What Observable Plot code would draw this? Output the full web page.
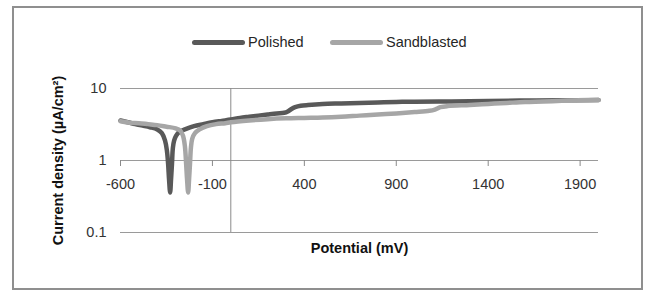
<!DOCTYPE html>
<html>
<head>
<meta charset="utf-8">
<script src="https://cdn.jsdelivr.net/npm/d3@7"></script>
<script src="https://cdn.jsdelivr.net/npm/@observablehq/plot@0.6"></script>
<style>
  html, body { margin: 0; padding: 0; background: #fff; }
  #wrap { position: relative; width: 646px; height: 291px; font-family: "Liberation Sans", Arial, sans-serif; }
  #border { position: absolute; left: 12px; top: 6px; width: 627px; height: 280px; border: 2px solid #8f8f8f; box-sizing: content-box; pointer-events: none; }
  #legend { position: absolute; top: 32px; left: 0; width: 646px; height: 20px; font-size: 14.5px; color: #262626; }
  .item { position: absolute; top: 0; display: flex; align-items: center; height: 20px; }
  .swatch { display: inline-block; width: 53px; height: 5px; border-radius: 3px; margin-right: 3px; }
  svg { position: absolute; left: 0; top: 0; }
</style>
</head>
<body>
<div id="wrap">
  <div id="border"></div>
  <div id="legend"></div>
</div>
<script>
const seriesNames = ["Polished", "Sandblasted"];
const seriesColors = ["#595959", "#a6a6a6"];

const polishedX = [-600,-560,-520,-480,-440,-400,-375,-358,-348,-341,-336,-330,-325,-320,-315,-308,-298,-280,-250,-200,-150,-100,-50,0,50,100,150,200,250,290,310,330,350,380,420,500,600,700,800,900,1000,1200,1400,1600,1800,2000];
const polishedY = [3.6,3.4,3.2,3.05,2.9,2.7,2.4,1.9,1.4,0.9,0.55,0.36,0.55,0.9,1.5,1.9,2.2,2.5,2.7,3.0,3.2,3.4,3.55,3.7,3.9,4.05,4.2,4.35,4.5,4.6,4.8,5.2,5.5,5.75,5.9,6.1,6.2,6.3,6.4,6.5,6.55,6.6,6.7,6.8,6.85,6.9];

const sandX = [-600,-550,-500,-450,-400,-350,-300,-275,-260,-250,-243,-238,-232,-227,-222,-217,-210,-195,-170,-130,-80,-30,0,100,200,300,400,500,600,700,800,900,1000,1080,1110,1140,1180,1300,1400,1500,1600,1700,1800,1900,2000];
const sandY = [3.5,3.35,3.3,3.2,3.1,2.95,2.8,2.6,2.2,1.6,0.9,0.55,0.36,0.55,0.9,1.5,2.0,2.4,2.7,3.0,3.2,3.3,3.4,3.6,3.75,3.85,3.9,3.95,4.05,4.2,4.35,4.5,4.7,4.9,5.1,5.5,5.7,5.9,6.1,6.3,6.5,6.6,6.75,6.85,6.9];

const xTicks = [-600,-100,400,900,1400,1900];
const yTicks = [0.1, 1, 10];
const yTickLabels = ["0.1", "1", "10"];
const xTitle = "Potential (mV)";
const yTitle = "Current density (µA/cm²)";

const polished = polishedX.map((x, i) => ({x, y: polishedY[i], s: seriesNames[0]}));
const sand = sandX.map((x, i) => ({x, y: sandY[i], s: seriesNames[1]}));

const font = "Liberation Sans, Arial, sans-serif";

const chart = Plot.plot({
  width: 646,
  height: 291,
  marginLeft: 120,
  marginRight: 48,
  marginTop: 88,
  marginBottom: 59,
  style: {fontFamily: font, background: "transparent", overflow: "visible"},
  x: {domain: [-600, 2000], axis: null},
  y: {type: "log", domain: [0.1, 10], axis: null},
  marks: [
    Plot.ruleY(yTicks, {stroke: "#9a9a9a", strokeWidth: 1}),
    Plot.ruleX([0], {y1: 0.1, y2: 10, stroke: "#8a8a8a", strokeWidth: 1}),
    Plot.ruleX(xTicks, {x: d => d, y1: 1, y2: 1, insetBottom: -6, stroke: "#8a8a8a", strokeWidth: 1}),
    Plot.text(xTicks, {x: d => d, y: 1, dy: 24, text: d => String(d), fontSize: 14.5, fill: "#333"}),
    Plot.text(yTicks, {y: d => d, frameAnchor: "left", dx: -14, textAnchor: "end", text: (d, i) => yTickLabels[i], fontSize: 14.5, fill: "#333"}),
    Plot.line(polished, {x: "x", y: "y", stroke: seriesColors[0], strokeWidth: 4.5, strokeLinecap: "round", strokeLinejoin: "round", curve: "catmull-rom"}),
    Plot.line(sand, {x: "x", y: "y", stroke: seriesColors[1], strokeWidth: 4.5, strokeLinecap: "round", strokeLinejoin: "round", curve: "catmull-rom"}),
    Plot.text([xTitle], {frameAnchor: "bottom", dy: 16, lineAnchor: "middle", text: d => d, fontSize: 14.5, fontWeight: "bold", fill: "#111"}),
    Plot.text([yTitle], {frameAnchor: "left", dx: -62, rotate: -90, textAnchor: "middle", lineAnchor: "middle", text: d => d, fontSize: 14.5, fontWeight: "bold", fill: "#111"})
  ]
});

const wrap = document.getElementById("wrap");
wrap.insertBefore(chart, document.getElementById("border"));

const legend = document.getElementById("legend");
const legendLeft = [192, 330];
seriesNames.forEach((name, i) => {
  const it = document.createElement("div");
  it.className = "item";
  it.style.left = legendLeft[i] + "px";
  const sw = document.createElement("span");
  sw.className = "swatch";
  sw.style.background = seriesColors[i];
  const tx = document.createElement("span");
  tx.textContent = name;
  it.appendChild(sw);
  it.appendChild(tx);
  legend.appendChild(it);
});
</script>
</body>
</html>
